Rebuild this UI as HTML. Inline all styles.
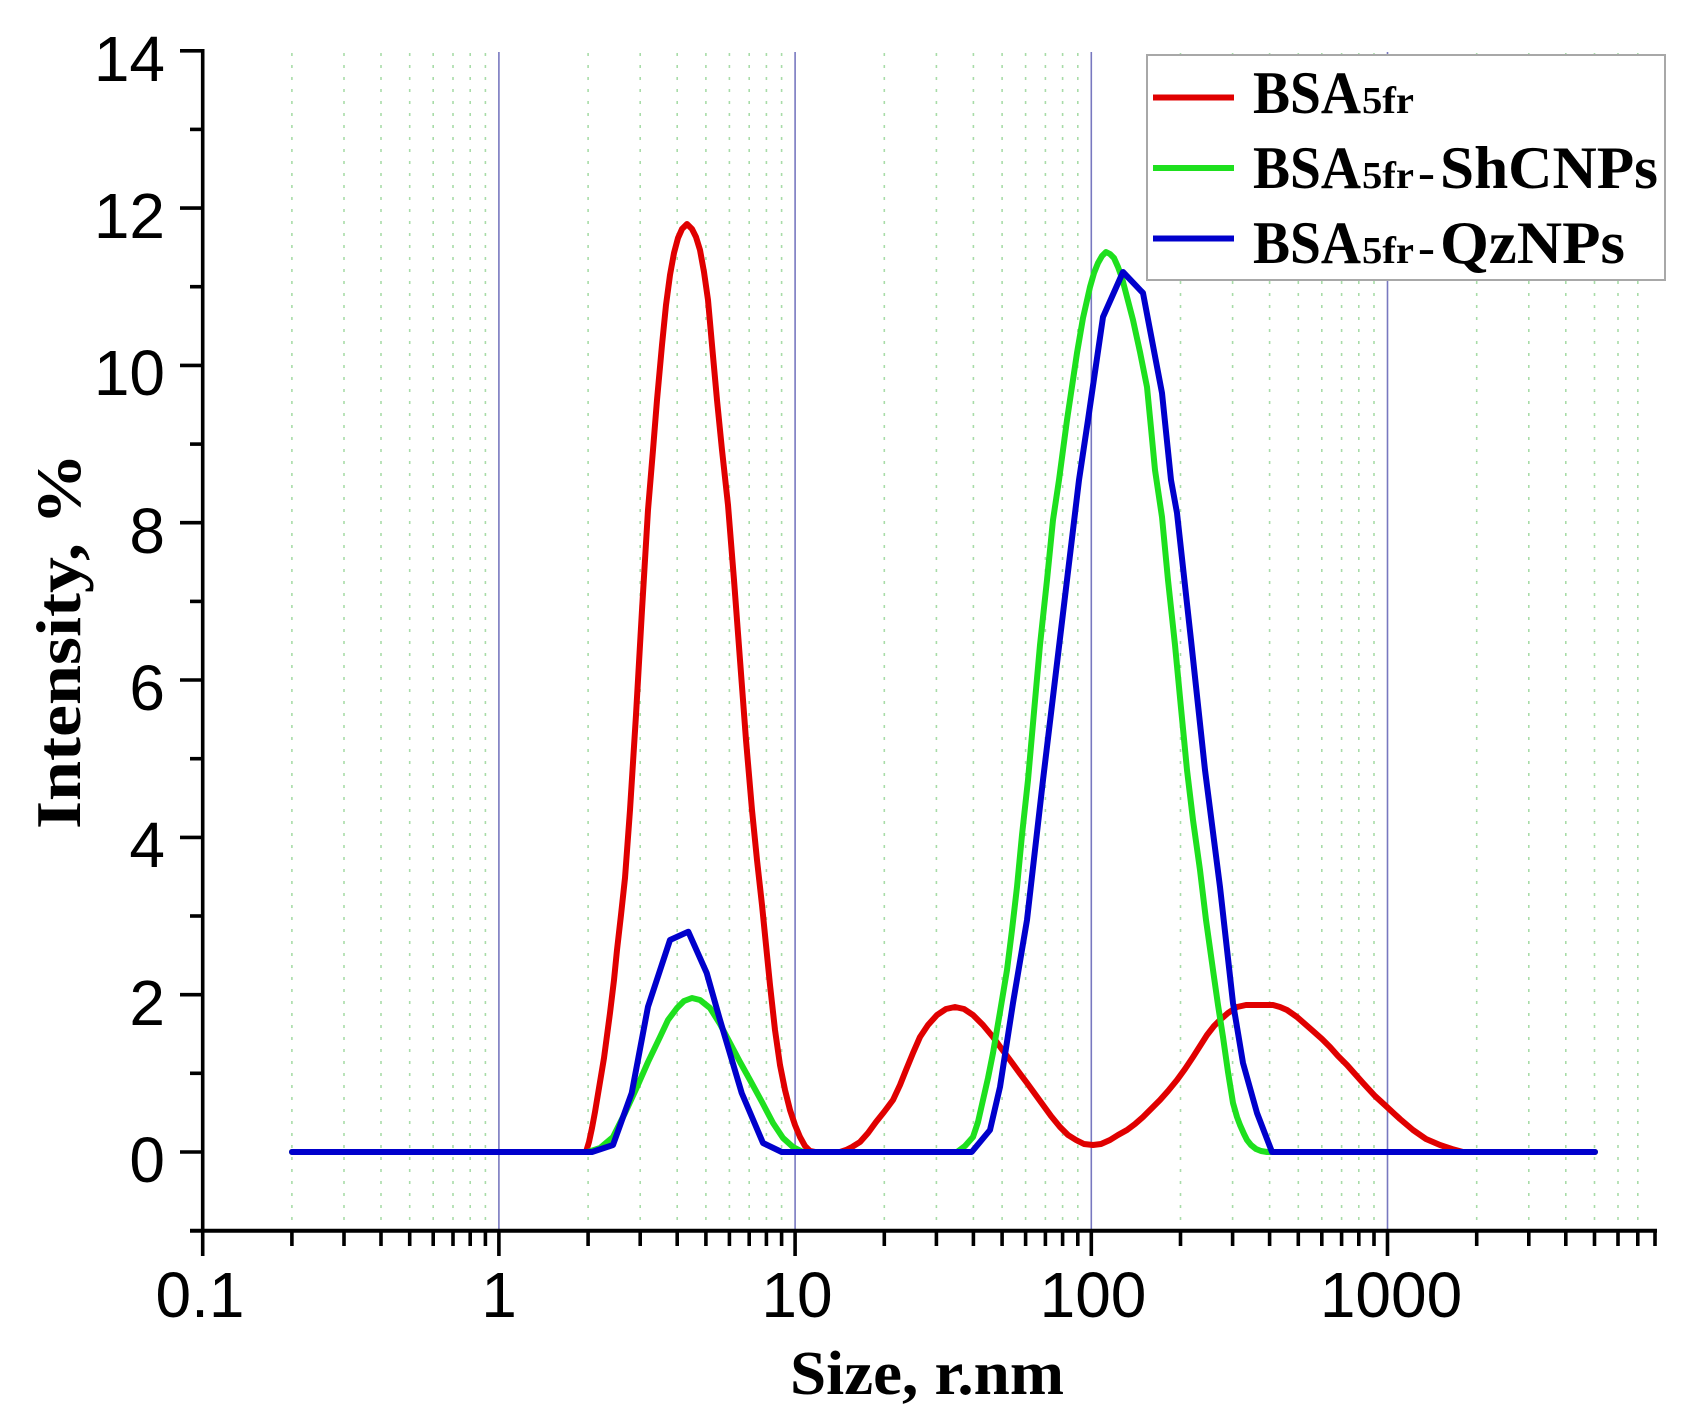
<!DOCTYPE html>
<html>
<head>
<meta charset="utf-8">
<style>
  html, body { margin: 0; padding: 0; background: #ffffff; }
  svg { display: block; }
</style>
</head>
<body>
<svg width="1691" height="1422" viewBox="0 0 1691 1422" xmlns="http://www.w3.org/2000/svg">
  <rect x="0" y="0" width="1691" height="1422" fill="#ffffff"/>

  <g stroke="#a8dca8" stroke-width="1.6" stroke-dasharray="3,9" fill="none">
    <line x1="291.9" y1="53" x2="291.9" y2="1229"/>
    <line x1="344.0" y1="53" x2="344.0" y2="1229"/>
    <line x1="381.0" y1="53" x2="381.0" y2="1229"/>
    <line x1="409.7" y1="53" x2="409.7" y2="1229"/>
    <line x1="433.2" y1="53" x2="433.2" y2="1229"/>
    <line x1="453.0" y1="53" x2="453.0" y2="1229"/>
    <line x1="470.2" y1="53" x2="470.2" y2="1229"/>
    <line x1="485.4" y1="53" x2="485.4" y2="1229"/>
    <line x1="588.1" y1="53" x2="588.1" y2="1229"/>
    <line x1="640.2" y1="53" x2="640.2" y2="1229"/>
    <line x1="677.2" y1="53" x2="677.2" y2="1229"/>
    <line x1="705.9" y1="53" x2="705.9" y2="1229"/>
    <line x1="729.4" y1="53" x2="729.4" y2="1229"/>
    <line x1="749.2" y1="53" x2="749.2" y2="1229"/>
    <line x1="766.4" y1="53" x2="766.4" y2="1229"/>
    <line x1="781.6" y1="53" x2="781.6" y2="1229"/>
    <line x1="884.3" y1="53" x2="884.3" y2="1229"/>
    <line x1="936.4" y1="53" x2="936.4" y2="1229"/>
    <line x1="973.4" y1="53" x2="973.4" y2="1229"/>
    <line x1="1002.1" y1="53" x2="1002.1" y2="1229"/>
    <line x1="1025.6" y1="53" x2="1025.6" y2="1229"/>
    <line x1="1045.4" y1="53" x2="1045.4" y2="1229"/>
    <line x1="1062.6" y1="53" x2="1062.6" y2="1229"/>
    <line x1="1077.8" y1="53" x2="1077.8" y2="1229"/>
    <line x1="1180.5" y1="53" x2="1180.5" y2="1229"/>
    <line x1="1232.6" y1="53" x2="1232.6" y2="1229"/>
    <line x1="1269.6" y1="53" x2="1269.6" y2="1229"/>
    <line x1="1298.3" y1="53" x2="1298.3" y2="1229"/>
    <line x1="1321.8" y1="53" x2="1321.8" y2="1229"/>
    <line x1="1341.6" y1="53" x2="1341.6" y2="1229"/>
    <line x1="1358.8" y1="53" x2="1358.8" y2="1229"/>
    <line x1="1374.0" y1="53" x2="1374.0" y2="1229"/>
    <line x1="1476.7" y1="53" x2="1476.7" y2="1229"/>
    <line x1="1528.8" y1="53" x2="1528.8" y2="1229"/>
    <line x1="1565.8" y1="53" x2="1565.8" y2="1229"/>
    <line x1="1594.5" y1="53" x2="1594.5" y2="1229"/>
    <line x1="1618.0" y1="53" x2="1618.0" y2="1229"/>
    <line x1="1637.8" y1="53" x2="1637.8" y2="1229"/>
  </g>

  <g stroke="#7878c0" stroke-width="1.6">
    <line x1="498.9" y1="52" x2="498.9" y2="1229"/>
    <line x1="795.1" y1="52" x2="795.1" y2="1229"/>
    <line x1="1091.3" y1="52" x2="1091.3" y2="1229"/>
    <line x1="1387.5" y1="52" x2="1387.5" y2="1229"/>
  </g>

  <g fill="none" stroke-width="6" stroke-linejoin="round" stroke-linecap="round">
    <polyline stroke="#e00000" points="
      292,1152 586,1152 589,1142 592,1128 595,1112 599,1088 604,1058 610,1013
      614,980 617,950 621,915 625,878 630,810 636,715 642,610 648,510 653,450
      657,400 662,345 666,305 670,275 674,253 678,238 682,229 687,224 692,229
      696,237 700,250 704,272 708,300 712,345 717,400 722,450 728,505 734,580
      740,660 746,740 752,810 757,860 762,905 766,945 770,985 775,1030 780,1065
      785,1090 790,1110 795,1125 800,1137 805,1146 810,1151 815,1152
      840,1152 846,1150 852,1147 860,1142 868,1133 876,1122 884,1112 893,1100
      900,1085 906,1070 913,1053 920,1037 928,1025 937,1015 946,1009 955,1007
      964,1009 973,1015 983,1025 993,1037 1001,1048 1010,1060 1018,1071 1027,1083
      1035,1094 1043,1105 1051,1116 1060,1127 1068,1135 1076,1140 1084,1144 1093,1145
      1101,1144 1110,1140 1118,1135 1127,1130 1135,1124 1143,1117 1151,1109 1160,1100
      1168,1091 1177,1080 1185,1069 1193,1057 1200,1046 1207,1035 1214,1026 1220,1020
      1228,1013 1237,1007 1246,1005 1255,1005 1264,1005 1273,1005 1280,1007 1287,1010
      1297,1017 1305,1024 1313,1031 1322,1039 1330,1047 1338,1056 1347,1065 1355,1074
      1363,1083 1375,1096 1387,1107 1400,1119 1413,1130 1426,1139 1440,1145 1452,1149
      1463,1152 1595,1152"/>
    <polyline stroke="#1ee01e" points="
      292,1152 588,1152 600,1148 613,1137 625,1113 637,1087 648,1062 660,1037 668,1020
      677,1008 684,1001 692,998 700,1000 710,1008 720,1024 730,1043 740,1062 750,1080
      762,1102 773,1123 783,1138 793,1147 803,1152
      957,1152 965,1146 973,1137 978,1122 983,1100 988,1078 993,1053 1000,1012 1007,970
      1012,930 1017,887 1022,835 1028,780 1034,712 1040,645 1047,580 1053,520 1059,480
      1067,420 1077,353 1083,318 1090,287 1094,273 1098,263 1102,256 1106,252 1110,254
      1114,258 1118,267 1122,278 1127,297 1133,320 1140,352 1147,387 1151,428 1155,470
      1162,517 1168,580 1175,645 1181,708 1187,770 1193,820 1200,870 1206,920 1213,970
      1218,1005 1223,1037 1228,1072 1233,1103 1237,1117 1240,1125 1244,1134 1247,1140
      1251,1145 1256,1149 1261,1151 1267,1152 1595,1152"/>
    <polyline stroke="#0000cc" points="
      292,1152 592,1152 613,1145 631.7,1093 648,1006.7 670,940 688.3,931.7 706.7,973
      720,1020 741.7,1093 763,1143 781.7,1152
      971.7,1152 990,1130 1000,1087 1013,1003 1027,920 1043,780 1061,630 1079,480
      1088,420 1103,317 1123,272 1143,293 1162,393 1171,480 1177,513 1191,640 1205,770
      1220,887 1233,1003 1243,1063 1257,1113 1272,1152 1595,1152"/>
  </g>

  <g stroke="#000" fill="none">
    <line x1="202.7" y1="49" x2="202.7" y2="1232" stroke-width="3.6"/>
    <line x1="190" y1="1230.7" x2="1657" y2="1230.7" stroke-width="4"/>
  </g>

  <g stroke="#000" stroke-width="3.6">
    <line x1="180" y1="50.8" x2="203" y2="50.8"/>
    <line x1="180" y1="208.1" x2="203" y2="208.1"/>
    <line x1="180" y1="365.4" x2="203" y2="365.4"/>
    <line x1="180" y1="522.7" x2="203" y2="522.7"/>
    <line x1="180" y1="680.0" x2="203" y2="680.0"/>
    <line x1="180" y1="837.4" x2="203" y2="837.4"/>
    <line x1="180" y1="994.7" x2="203" y2="994.7"/>
    <line x1="180" y1="1152" x2="203" y2="1152"/>
    <line x1="190" y1="129.4" x2="203" y2="129.4"/>
    <line x1="190" y1="286.7" x2="203" y2="286.7"/>
    <line x1="190" y1="444.1" x2="203" y2="444.1"/>
    <line x1="190" y1="601.4" x2="203" y2="601.4"/>
    <line x1="190" y1="758.7" x2="203" y2="758.7"/>
    <line x1="190" y1="916.0" x2="203" y2="916.0"/>
    <line x1="190" y1="1073.3" x2="203" y2="1073.3"/>
  </g>

  <g stroke="#000" stroke-width="3.6">
    <line x1="202.7" y1="1230" x2="202.7" y2="1256"/>
    <line x1="498.9" y1="1230" x2="498.9" y2="1256"/>
    <line x1="795.1" y1="1230" x2="795.1" y2="1256"/>
    <line x1="1091.3" y1="1230" x2="1091.3" y2="1256"/>
    <line x1="1387.5" y1="1230" x2="1387.5" y2="1256"/>
    <line x1="291.9" y1="1230" x2="291.9" y2="1246"/>
    <line x1="344.0" y1="1230" x2="344.0" y2="1246"/>
    <line x1="381.0" y1="1230" x2="381.0" y2="1246"/>
    <line x1="409.7" y1="1230" x2="409.7" y2="1246"/>
    <line x1="433.2" y1="1230" x2="433.2" y2="1246"/>
    <line x1="453.0" y1="1230" x2="453.0" y2="1246"/>
    <line x1="470.2" y1="1230" x2="470.2" y2="1246"/>
    <line x1="485.4" y1="1230" x2="485.4" y2="1246"/>
    <line x1="588.1" y1="1230" x2="588.1" y2="1246"/>
    <line x1="640.2" y1="1230" x2="640.2" y2="1246"/>
    <line x1="677.2" y1="1230" x2="677.2" y2="1246"/>
    <line x1="705.9" y1="1230" x2="705.9" y2="1246"/>
    <line x1="729.4" y1="1230" x2="729.4" y2="1246"/>
    <line x1="749.2" y1="1230" x2="749.2" y2="1246"/>
    <line x1="766.4" y1="1230" x2="766.4" y2="1246"/>
    <line x1="781.6" y1="1230" x2="781.6" y2="1246"/>
    <line x1="884.3" y1="1230" x2="884.3" y2="1246"/>
    <line x1="936.4" y1="1230" x2="936.4" y2="1246"/>
    <line x1="973.4" y1="1230" x2="973.4" y2="1246"/>
    <line x1="1002.1" y1="1230" x2="1002.1" y2="1246"/>
    <line x1="1025.6" y1="1230" x2="1025.6" y2="1246"/>
    <line x1="1045.4" y1="1230" x2="1045.4" y2="1246"/>
    <line x1="1062.6" y1="1230" x2="1062.6" y2="1246"/>
    <line x1="1077.8" y1="1230" x2="1077.8" y2="1246"/>
    <line x1="1180.5" y1="1230" x2="1180.5" y2="1246"/>
    <line x1="1232.6" y1="1230" x2="1232.6" y2="1246"/>
    <line x1="1269.6" y1="1230" x2="1269.6" y2="1246"/>
    <line x1="1298.3" y1="1230" x2="1298.3" y2="1246"/>
    <line x1="1321.8" y1="1230" x2="1321.8" y2="1246"/>
    <line x1="1341.6" y1="1230" x2="1341.6" y2="1246"/>
    <line x1="1358.8" y1="1230" x2="1358.8" y2="1246"/>
    <line x1="1374.0" y1="1230" x2="1374.0" y2="1246"/>
    <line x1="1476.7" y1="1230" x2="1476.7" y2="1246"/>
    <line x1="1528.8" y1="1230" x2="1528.8" y2="1246"/>
    <line x1="1565.8" y1="1230" x2="1565.8" y2="1246"/>
    <line x1="1594.5" y1="1230" x2="1594.5" y2="1246"/>
    <line x1="1618.0" y1="1230" x2="1618.0" y2="1246"/>
    <line x1="1637.8" y1="1230" x2="1637.8" y2="1246"/>
    <line x1="1655.0" y1="1230" x2="1655.0" y2="1246"/>
  </g>

  <g font-family="'Liberation Sans', Arial, sans-serif" font-size="64" fill="#000" text-anchor="end">
    <text x="165" y="81">14</text>
    <text x="165" y="238">12</text>
    <text x="165" y="395">10</text>
    <text x="165" y="553">8</text>
    <text x="165" y="710">6</text>
    <text x="165" y="867">4</text>
    <text x="165" y="1025">2</text>
    <text x="165" y="1182">0</text>
  </g>

  <g font-family="'Liberation Sans', Arial, sans-serif" font-size="64" fill="#000" text-anchor="middle">
    <text x="200" y="1317">0.1</text>
    <text x="499" y="1317">1</text>
    <text x="797" y="1317">10</text>
    <text x="1093" y="1317">100</text>
    <text x="1391" y="1317">1000</text>
  </g>

  <text x="790" y="1394" font-family="'Liberation Serif', 'Times New Roman', serif" font-weight="bold" font-size="62" textLength="274" lengthAdjust="spacingAndGlyphs" fill="#000">Size, r.nm</text>
  <text transform="translate(80,641) rotate(-90)" x="0" y="0" text-anchor="middle" font-family="'Liberation Serif', 'Times New Roman', serif" font-weight="bold" font-size="64" textLength="376" lengthAdjust="spacingAndGlyphs" fill="#000">Intensity, %</text>

  <rect x="1147" y="55" width="518" height="225" fill="#ffffff" stroke="#a8a8a8" stroke-width="2"/>
  <g stroke-width="6" stroke-linecap="butt">
    <line x1="1153" y1="97.5" x2="1234" y2="97.5" stroke="#e00000"/>
    <line x1="1153" y1="168" x2="1234" y2="168" stroke="#1ee01e"/>
    <line x1="1153" y1="238.5" x2="1234" y2="238.5" stroke="#0000cc"/>
  </g>
  <g font-family="'Liberation Serif', 'Times New Roman', serif" font-weight="bold" fill="#000">
    <text x="1253" y="113" font-size="60" textLength="108" lengthAdjust="spacingAndGlyphs">BSA</text>
    <text x="1362" y="113" font-size="38" textLength="52" lengthAdjust="spacingAndGlyphs">5fr</text>
    <text x="1253" y="188" font-size="60" textLength="108" lengthAdjust="spacingAndGlyphs">BSA</text>
    <text x="1362" y="188" font-size="38" textLength="52" lengthAdjust="spacingAndGlyphs">5fr</text>
    <text x="1418" y="188" font-size="46" textLength="17" lengthAdjust="spacingAndGlyphs">-</text>
    <text x="1440" y="188" font-size="60" textLength="218" lengthAdjust="spacingAndGlyphs">ShCNPs</text>
    <text x="1253" y="263" font-size="60" textLength="108" lengthAdjust="spacingAndGlyphs">BSA</text>
    <text x="1362" y="263" font-size="38" textLength="52" lengthAdjust="spacingAndGlyphs">5fr</text>
    <text x="1418" y="263" font-size="46" textLength="17" lengthAdjust="spacingAndGlyphs">-</text>
    <text x="1440" y="263" font-size="60" textLength="185" lengthAdjust="spacingAndGlyphs">QzNPs</text>
  </g>
</svg>
</body>
</html>
